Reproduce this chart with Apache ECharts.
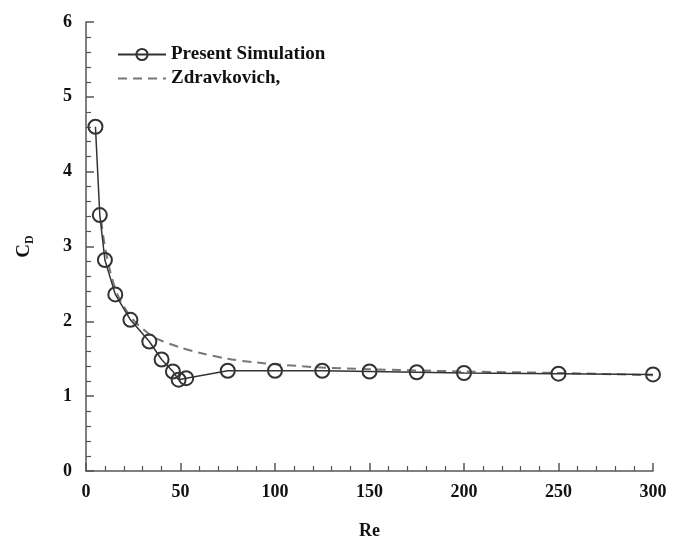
<!DOCTYPE html>
<html><head><meta charset="utf-8">
<script src="https://cdn.jsdelivr.net/npm/echarts@6/dist/echarts.min.js"></script>
<style>html,body{margin:0;padding:0;background:#fff}#c{width:685px;height:541px}</style>
</head><body><div id="c"></div>
<script>
const simRe = [5, 7.3, 10, 15.5, 23.5, 33.5, 40, 46, 49, 53, 75, 100, 125, 150, 175, 200, 250, 300];
const simCd = [4.6, 3.42, 2.82, 2.36, 2.02, 1.73, 1.49, 1.33, 1.22, 1.24, 1.34, 1.34, 1.34, 1.33, 1.32, 1.31, 1.30, 1.29];
const zdRe = [8, 10, 13, 16, 20, 25, 30, 35, 40, 50, 60, 75, 90, 120, 150, 200, 250, 300];
const zdCd = [3.35, 3.0, 2.65, 2.4, 2.2, 2.02, 1.9, 1.8, 1.74, 1.65, 1.58, 1.5, 1.45, 1.39, 1.36, 1.33, 1.31, 1.28];
const seriesNames = ['Present Simulation', 'Zdravkovich,'];

const font = 'Liberation Serif';
const chart = echarts.init(document.getElementById('c'));
const axisCommon = {
  axisLine: {show: true, lineStyle: {color: '#555', width: 1.5}},
  axisTick: {show: true, inside: true, length: 8, lineStyle: {color: '#555', width: 1.5}},
  minorTick: {show: true, splitNumber: 5, length: 5, lineStyle: {color: '#555', width: 1.2}},
  splitLine: {show: false},
  axisLabel: {color: '#111', fontFamily: font, fontWeight: 'bold', fontSize: 18}
};
chart.setOption({
  animation: false,
  grid: {left: 86, right: 32, top: 22, bottom: 70, containLabel: false, outerBoundsMode: 'none'},
  legend: {
    left: 112, top: 40, orient: 'vertical', itemWidth: 48, itemHeight: 14, itemGap: 5,
    textStyle: {fontFamily: font, fontWeight: 'bold', fontSize: 19, color: '#111'},
    data: seriesNames
  },
  xAxis: Object.assign({
    type: 'value', min: 0, max: 300, interval: 50,
    name: 'Re', nameLocation: 'middle', nameGap: 51,
    nameTextStyle: {fontFamily: font, fontWeight: 'bold', fontSize: 18, color: '#111'}
  }, axisCommon, {axisLabel: Object.assign({}, axisCommon.axisLabel, {margin: 12})}),
  yAxis: Object.assign({
    type: 'value', min: 0, max: 6, interval: 1,
    name: '{c|C}{d|D}', nameLocation: 'middle', nameGap: 50, nameRotate: 90,
    nameTextStyle: {
      rich: {
        c: {fontFamily: font, fontWeight: 'bold', fontSize: 19, color: '#111'},
        d: {fontFamily: font, fontWeight: 'bold', fontSize: 12, color: '#111', padding: [12, 0, 0, 0]}
      }
    }
  }, axisCommon, {axisLabel: Object.assign({}, axisCommon.axisLabel, {margin: 14})}),
  series: [
    {
      name: seriesNames[0], type: 'line',
      data: simRe.map((r, i) => [r, simCd[i]]),
      symbol: 'circle', symbolSize: 14, z: 3,
      lineStyle: {color: '#333', width: 1.5},
      itemStyle: {color: 'rgba(255,255,255,0)', borderColor: '#333', borderWidth: 2}
    },
    {
      name: seriesNames[1], type: 'line', smooth: 0.3,
      data: zdRe.map((r, i) => [r, zdCd[i]]),
      symbol: 'circle', symbolSize: 0, showSymbol: false, z: 2,
      lineStyle: {color: '#777', width: 2, type: [9, 6]},
      itemStyle: {color: 'rgba(0,0,0,0)', borderColor: 'rgba(0,0,0,0)', borderWidth: 0}
    }
  ]
});
</script></body></html>
